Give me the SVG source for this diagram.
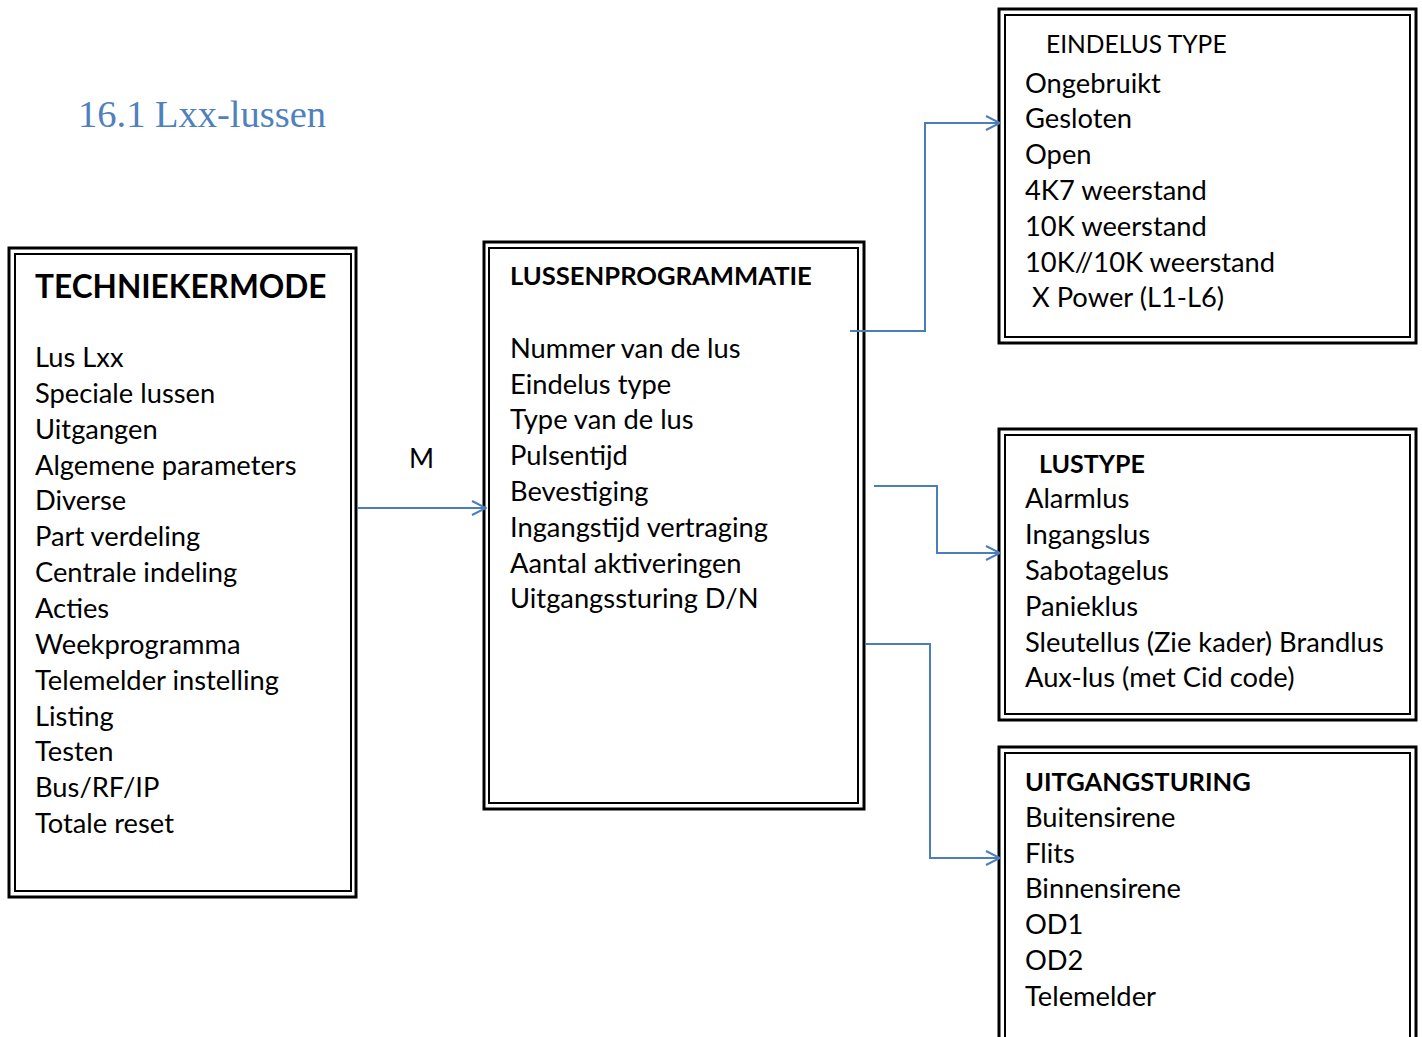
<svg xmlns="http://www.w3.org/2000/svg" width="1422" height="1037" viewBox="0 0 1422 1037">
  <style>
    .outer { fill: none; stroke: #000; stroke-width: 3; }
    .inner { fill: none; stroke: #000; stroke-width: 2; }
    .t { font-family: Lato, "Open Sans", sans-serif; font-size: 27.3px; fill: #000; }
    .b { font-weight: bold; }
    .wire { fill: none; stroke: #4a7ebb; stroke-width: 2; }
    .title { font-family: "Liberation Serif", serif; font-size: 38.5px; fill: #4f81bd; }
  </style>
  <defs>
    <marker id="open" markerWidth="16" markerHeight="16" refX="15" refY="8" orient="auto" markerUnits="userSpaceOnUse">
      <path d="M1,1 L15,8 L1,15" fill="none" stroke="#4a7ebb" stroke-width="2"/>
    </marker>
  </defs>

  <text class="title" x="78" y="127">16.1 Lxx-lussen</text>

  <g id="techniekermode">
    <rect class="outer" x="9" y="248" width="347" height="649"/>
    <rect class="inner" x="15" y="254" width="336" height="637"/>
    <text class="t b" x="35" y="298" style="font-size:31.6px">TECHNIEKERMODE</text>
    <text class="t" x="35" y="367">Lus Lxx</text>
    <text class="t" x="35" y="403">Speciale lussen</text>
    <text class="t" x="35" y="439">Uitgangen</text>
    <text class="t" x="35" y="475">Algemene parameters</text>
    <text class="t" x="35" y="510">Diverse</text>
    <text class="t" x="35" y="546">Part verdeling</text>
    <text class="t" x="35" y="582">Centrale indeling</text>
    <text class="t" x="35" y="618">Acties</text>
    <text class="t" x="35" y="654">Weekprogramma</text>
    <text class="t" x="35" y="690">Telemelder instelling</text>
    <text class="t" x="35" y="726">Listing</text>
    <text class="t" x="35" y="761">Testen</text>
    <text class="t" x="35" y="797">Bus/RF/IP</text>
    <text class="t" x="35" y="833">Totale reset</text>
  </g>

  <g id="lussenprogrammatie">
    <rect class="outer" x="484" y="242" width="380" height="567"/>
    <rect class="inner" x="489" y="248" width="369" height="555"/>
    <text class="t b" x="510" y="285" style="font-size:25.6px">LUSSENPROGRAMMATIE</text>
    <text class="t" x="510" y="358">Nummer van de lus</text>
    <text class="t" x="510" y="394">Eindelus type</text>
    <text class="t" x="510" y="429">Type van de lus</text>
    <text class="t" x="510" y="465">Pulsentijd</text>
    <text class="t" x="510" y="501">Bevestiging</text>
    <text class="t" x="510" y="537">Ingangstijd vertraging</text>
    <text class="t" x="510" y="573">Aantal aktiveringen</text>
    <text class="t" x="510" y="608">Uitgangssturing D/N</text>
  </g>

  <g id="eindelus-type">
    <rect class="outer" x="999" y="9" width="417" height="334"/>
    <rect class="inner" x="1005" y="15" width="405" height="322"/>
    <text class="t" x="1046" y="53" style="font-size:24.6px">EINDELUS TYPE</text>
    <text class="t" x="1025" y="93">Ongebruikt</text>
    <text class="t" x="1025" y="128">Gesloten</text>
    <text class="t" x="1025" y="164">Open</text>
    <text class="t" x="1025" y="200">4K7 weerstand</text>
    <text class="t" x="1025" y="236">10K weerstand</text>
    <text class="t" x="1025" y="272">10K//10K weerstand</text>
    <text class="t" x="1032" y="307">X Power (L1-L6)</text>
  </g>

  <g id="lustype">
    <rect class="outer" x="999" y="429" width="417" height="291"/>
    <rect class="inner" x="1005" y="435" width="405" height="279"/>
    <text class="t b" x="1039" y="473" style="font-size:25px">LUSTYPE</text>
    <text class="t" x="1025" y="508">Alarmlus</text>
    <text class="t" x="1025" y="544">Ingangslus</text>
    <text class="t" x="1025" y="580">Sabotagelus</text>
    <text class="t" x="1025" y="616">Panieklus</text>
    <text class="t" x="1025" y="652">Sleutellus (Zie kader) Brandlus</text>
    <text class="t" x="1025" y="687">Aux-lus (met Cid code)</text>
  </g>

  <g id="uitgangsturing">
    <path class="outer" d="M999,1040 V747 H1416 V1040"/>
    <path class="inner" d="M1005,1040 V753 H1410 V1040"/>
    <text class="t b" x="1025" y="791" style="font-size:25.5px">UITGANGSTURING</text>
    <text class="t" x="1025" y="827">Buitensirene</text>
    <text class="t" x="1025" y="863">Flits</text>
    <text class="t" x="1025" y="898">Binnensirene</text>
    <text class="t" x="1025" y="934">OD1</text>
    <text class="t" x="1025" y="970">OD2</text>
    <text class="t" x="1025" y="1006">Telemelder</text>
  </g>

  <g id="connectors">
    <path class="wire" d="M357,508 H486" marker-end="url(#open)"/>
    <text class="t" x="409" y="468" style="font-size:27px">M</text>
    <path class="wire" d="M850,331 H925 V123 H1000" marker-end="url(#open)"/>
    <path class="wire" d="M874,486 H937 V553 H1000" marker-end="url(#open)"/>
    <path class="wire" d="M865,644 H930 V858 H1000" marker-end="url(#open)"/>
  </g>
</svg>
